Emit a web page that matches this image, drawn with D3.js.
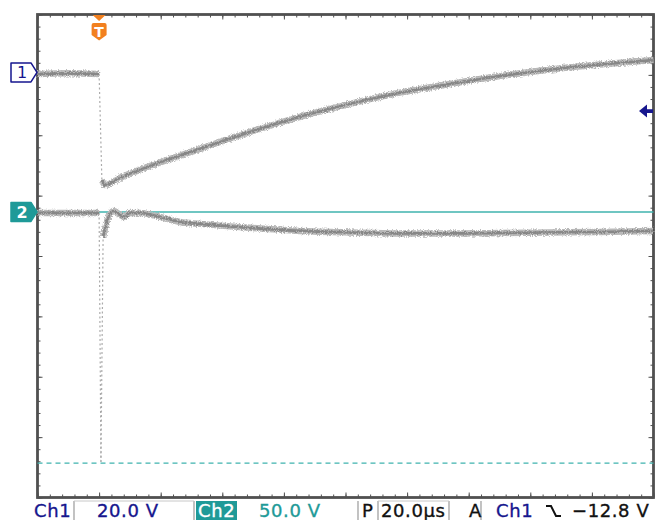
<!DOCTYPE html>
<html><head><meta charset="utf-8">
<script src="https://cdn.jsdelivr.net/npm/d3@7"></script>
<style>
html,body{margin:0;padding:0;background:#fff;}
svg{display:block;}
text{font-family:"DejaVu Sans",Verdana,sans-serif;}
</style></head><body>
<svg id="scope" width="657" height="520"></svg>
<script>
// Captured waveforms: time in µs relative to the trigger point, level in volts
const ch1Time  = [-20, -10, 0, 0.9, 1.9, 6.8, 16.5, 32.8, 49, 65.2, 81.5, 97.7, 114, 130.2, 146.4, 162.6, 180];
const ch1Volts = [-0.5, -0.3, -0.5, -35.6, -37.3, -34.9, -31, -25.3, -19.7, -14.7, -10.4, -6.7, -3.8, -1.2, 1.0, 2.65, 4.1];

const ch2Time  = [-20, -10, 0, 0.6, 1.3, 2.2, 2.9, 4.8, 6.8, 8.1, 10, 13.3, 19.8, 26.3, 32.8, 49, 65.2, 81.5, 97.7, 114, 130.2, 146.4, 162.6, 180];
const ch2Volts = [-0.8, -0.8, -0.8, -207, -20.7, -11.6, -5, 0.8, -2.5, -4.1, -0.8, -0.8, -4.1, -8.3, -9.9, -13.2, -15.7, -17, -17.8, -17.8, -17.4, -17, -16.6, -15.7];

// Horizontal cursors on channel 2 (volts): solid, dashed
const ch2Cursors = [0, -208];
const triggerLevel = -12.8;   // volts, channel 1
const triggerTime = 0;        // µs

// Readout labels along the bottom
const ch1Scale = "20.0 V";
const ch2Scale = "50.0 V";
const timeBase = "20.0µs";
const trigLabel = "−12.8 V";

// Vertical settings per channel
const ch1Cfg = {voltsPerDiv: 20, position: 3.04};
const ch2Cfg = {voltsPerDiv: 50, position: 0.73};

const W = 657, H = 520;
const frame = {left: 37.5, top: 14.5, right: 653.5, bottom: 497.5};

const svg = d3.select("#scope");
const x = d3.scaleLinear().domain([-20, 180]).range([frame.left, frame.right]);
const div = d3.scaleLinear().domain([-4, 4]).range([frame.bottom, frame.top]);
const y1 = v => div(v / ch1Cfg.voltsPerDiv + ch1Cfg.position);
const y2 = v => div(v / ch2Cfg.voltsPerDiv + ch2Cfg.position);

const navy = "#16168e", teal = "#1f9a98", tealLine = "#3fb3ae", orange = "#f2801f", frameCol = "#505050";

// grainy trace texture
const defs = svg.append("defs");
const f = defs.append("filter").attr("id", "grain")
  .attr("filterUnits", "userSpaceOnUse").attr("x", 0).attr("y", 0).attr("width", W).attr("height", H);
f.append("feTurbulence").attr("type", "fractalNoise").attr("baseFrequency", "0.8 1.2")
  .attr("numOctaves", 2).attr("seed", 7).attr("result", "n");
f.append("feDisplacementMap").attr("in", "SourceGraphic").attr("in2", "n").attr("scale", 4.5)
  .attr("xChannelSelector", "R").attr("yChannelSelector", "G").attr("result", "d");
f.append("feGaussianBlur").attr("in", "d").attr("stdDeviation", 0.35);

svg.append("rect").attr("width", W).attr("height", H).attr("fill", "#fff");

// graticule frame with inward ticks
const tickG = svg.append("g").attr("class", "ticks");
function ticks(axis, tx, ty) {
  const g = tickG.append("g").attr("transform", `translate(${tx},${ty})`).call(axis);
  g.select(".domain").remove();
  g.selectAll("line").attr("stroke", frameCol);
  g.selectAll("text").remove();
}
const minorT = d3.range(-20, 180.01, 4), majorT = d3.range(-20, 180.01, 20);
const minorV = d3.range(-4, 4.001, 0.2), majorV = d3.range(-4, 4.001, 1);
ticks(d3.axisBottom(x).tickValues(minorT).tickSize(3).tickFormat(""), 0, frame.top);
ticks(d3.axisBottom(x).tickValues(majorT).tickSize(5).tickFormat(""), 0, frame.top);
ticks(d3.axisTop(x).tickValues(minorT).tickSize(3).tickFormat(""), 0, frame.bottom);
ticks(d3.axisTop(x).tickValues(majorT).tickSize(5).tickFormat(""), 0, frame.bottom);
ticks(d3.axisRight(div).tickValues(minorV).tickSize(3).tickFormat(""), frame.left, 0);
ticks(d3.axisRight(div).tickValues(majorV).tickSize(5).tickFormat(""), frame.left, 0);
ticks(d3.axisLeft(div).tickValues(minorV).tickSize(3).tickFormat(""), frame.right, 0);
ticks(d3.axisLeft(div).tickValues(majorV).tickSize(5).tickFormat(""), frame.right, 0);

svg.append("rect")
  .attr("x", frame.left).attr("y", frame.top)
  .attr("width", frame.right - frame.left).attr("height", frame.bottom - frame.top)
  .attr("fill", "none").attr("stroke", frameCol).attr("stroke-width", 2.8);

// channel 2 cursors
svg.append("line").attr("x1", frame.left).attr("x2", frame.right)
  .attr("y1", y2(ch2Cursors[0])).attr("y2", y2(ch2Cursors[0]))
  .attr("stroke", tealLine).attr("stroke-width", 1.6);
svg.append("line").attr("x1", frame.left).attr("x2", frame.right)
  .attr("y1", y2(ch2Cursors[1])).attr("y2", y2(ch2Cursors[1]))
  .attr("stroke", tealLine).attr("stroke-width", 1.4).attr("stroke-dasharray", "5,4");

// waveforms: slow parts as a noisy band, fast edges as faint dotted strokes
function drawTrace(times, volts, yFn) {
  const pts = times.map((t, i) => [x(t), yFn(volts[i])]);
  const runs = [], edges = [];
  let cur = [pts[0]];
  for (let i = 1; i < pts.length; i++) {
    const dx = Math.abs(pts[i][0] - pts[i - 1][0]), dy = Math.abs(pts[i][1] - pts[i - 1][1]);
    if (dy > 5 * Math.max(dx, 0.01) && dy > 20) {
      if (cur.length > 1) runs.push(cur);
      edges.push([pts[i - 1], pts[i]]);
      cur = [pts[i]];
    } else cur.push(pts[i]);
  }
  if (cur.length > 1) runs.push(cur);
  const line = d3.line().curve(d3.curveMonotoneX);
  svg.append("g").selectAll("path").data(edges).join("path")
    .attr("d", e => d3.line()(e))
    .attr("fill", "none").attr("stroke", "#ababab").attr("stroke-width", 1.2)
    .attr("stroke-dasharray", "2,2.5");
  const g = svg.append("g").attr("filter", "url(#grain)");
  runs.forEach(r => {
    g.append("path").attr("d", line(r)).attr("fill", "none")
      .attr("stroke", "#b9b9b9").attr("stroke-width", 6.5).attr("stroke-linejoin", "round");
    g.append("path").attr("d", line(r)).attr("fill", "none")
      .attr("stroke", "#878787").attr("stroke-width", 2.6).attr("stroke-linejoin", "round");
  });
}
drawTrace(ch2Time, ch2Volts, y2);
drawTrace(ch1Time, ch1Volts, y1);

// channel ground markers
function marker(yv, label, filled, col) {
  const p = `M11,${yv - 9.5}H31L37,${yv}L31,${yv + 9.5}H11Z`;
  svg.append("path").attr("d", p).attr("fill", filled ? col : "#fff")
    .attr("stroke", col).attr("stroke-width", 1.5).attr("stroke-linejoin", "round");
  svg.append("text").attr("x", 22).attr("y", yv + 6).attr("text-anchor", "middle")
    .attr("font-size", 16).attr("font-weight", filled ? "bold" : "normal")
    .attr("fill", filled ? "#fff" : col).text(label);
}
marker(y1(0), "1", false, navy);
marker(y2(0), "2", true, teal);

// trigger position marker
const tx = x(triggerTime);
svg.append("path").attr("d", `M${tx - 6.5},15L${tx + 6.5},15L${tx},21Z`).attr("fill", orange);
svg.append("path")
  .attr("d", `M${tx - 7.5},25Q${tx - 7.5},23 ${tx - 5.5},23H${tx + 5.5}Q${tx + 7.5},23 ${tx + 7.5},25V35L${tx},40.5L${tx - 7.5},35Z`)
  .attr("fill", orange);
svg.append("text").attr("x", tx).attr("y", 37).attr("text-anchor", "middle")
  .attr("font-size", 14).attr("font-weight", "bold").attr("fill", "#fff").text("T");

// trigger level arrow on the right
const ty = y1(triggerLevel);
svg.append("path")
  .attr("d", `M639,${ty}L647,${ty - 6.5}V${ty - 1.8}H653V${ty + 1.8}H647V${ty + 6.5}Z`)
  .attr("fill", navy);

// readout bar
const by = 517, fs = 18;
const sb = svg.append("g").attr("font-size", fs).attr("letter-spacing", 0.6);
const sep = "#9a9a9a";
[74, 194, 358, 378, 449, 481].forEach(sx => sb.append("line")
  .attr("x1", sx).attr("x2", sx).attr("y1", 501).attr("y2", 520)
  .attr("stroke", sep).attr("stroke-width", 1.2));
sb.append("line").attr("x1", 74).attr("x2", 194).attr("y1", 501).attr("y2", 501).attr("stroke", "#c8c8c8");
sb.append("line").attr("x1", 378).attr("x2", 449).attr("y1", 501).attr("y2", 501).attr("stroke", "#c8c8c8");
sb.append("rect").attr("x", 196).attr("y", 501).attr("width", 41).attr("height", 19).attr("fill", teal);

function label(xp, col, txt) {
  sb.append("text").attr("x", xp).attr("y", by).attr("fill", col)
    .attr("stroke", col).attr("stroke-width", 0.35).text(txt);
}
label(34, navy, "Ch1");
label(97, navy, ch1Scale);
label(198, "#fff", "Ch2");
label(259, teal, ch2Scale);
label(362, "#111", "P");
label(381, "#111", timeBase);
label(469, "#111", "A");
label(496, navy, "Ch1");
sb.append("path").attr("d", "M546,506H551L556,516H561").attr("fill", "none")
  .attr("stroke", "#111").attr("stroke-width", 2);
label(572, "#111", trigLabel);
</script>
</body></html>
